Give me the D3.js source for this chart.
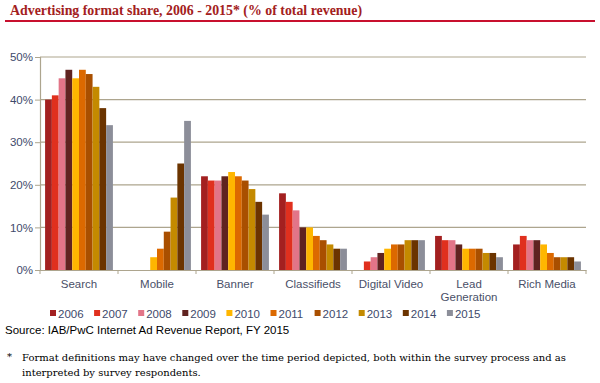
<!DOCTYPE html>
<html><head><meta charset="utf-8">
<script src="https://cdn.jsdelivr.net/npm/d3@7"></script>
<style>body{margin:0;background:#fff}svg{display:block}</style>
</head><body>
<svg id="c" width="600" height="383"></svg>
<script>
const categories = ["Search","Mobile","Banner","Classifieds","Digital Video","Lead Generation","Rich Media"];
const categoryLabels = [["Search"],["Mobile"],["Banner"],["Classifieds"],["Digital Video"],["Lead","Generation"],["Rich Media"]];
const years = ["2006","2007","2008","2009","2010","2011","2012","2013","2014","2015"];
const colors = ["#A32020","#E0301E","#E27588","#602320","#FFB600","#DC6900","#A94F00","#C48A00","#6B3400","#8C8E99"];
const v2006 = [40, 0, 22, 18, 0, 8, 6];
const v2007 = [41, 0, 21, 16, 2, 7, 8];
const v2008 = [45, 0, 21, 14, 3, 7, 7];
const v2009 = [47, 0, 22, 10, 4, 6, 7];
const v2010 = [45, 3, 23, 10, 5, 5, 6];
const v2011 = [47, 5, 22, 8, 6, 5, 4];
const v2012 = [46, 9, 21, 7, 6, 5, 3];
const v2013 = [43, 17, 19, 6, 7, 4, 3];
const v2014 = [38, 25, 16, 5, 7, 4, 3];
const v2015 = [34, 35, 13, 5, 7, 3, 2];
const series = [v2006,v2007,v2008,v2009,v2010,v2011,v2012,v2013,v2014,v2015];
const yTicks = [0,10,20,30,40,50];

const svg = d3.select("#c");
const L = 40, R = 586, T = 57, B = 270;

// Title
svg.append("text").attr("x",10).attr("y",15)
  .attr("font-family","'Liberation Serif', Georgia, serif").attr("font-weight","bold")
  .attr("font-size",14).attr("fill","#A32020")
  .attr("textLength",352).attr("lengthAdjust","spacingAndGlyphs")
  .text("Advertising format share, 2006 - 2015* (% of total revenue)");
svg.append("line").attr("x1",5).attr("x2",595).attr("y1",21).attr("y2",21)
  .attr("stroke","#C8102E").attr("stroke-width",2);

const x = d3.scaleBand().domain(categories).range([L,R]).paddingInner(0).paddingOuter(0);
const x1 = d3.scaleBand().domain(years).range([0,x.bandwidth()]).paddingOuter(0.75).paddingInner(0);
const y = d3.scaleLinear().domain([0,50]).range([B,T]);

// gridlines
svg.append("g").selectAll("line").data(yTicks.filter(d=>d>0)).join("line")
  .attr("x1",L).attr("x2",R).attr("y1",d=>y(d)).attr("y2",d=>y(d))
  .attr("stroke","#ADA58E").attr("stroke-width",1.2);

// y axis
const ya = svg.append("g").attr("transform",`translate(${L},0)`)
  .call(d3.axisLeft(y).tickValues(yTicks).tickFormat(d=>d+"%").tickSize(5).tickPadding(2));
ya.select(".domain").attr("stroke","#ADA58E").attr("stroke-width",1.2);
ya.selectAll(".tick line").attr("stroke","#ADA58E");
ya.selectAll("text").attr("font-family","'Liberation Sans', Arial, sans-serif").attr("font-size",11.5).attr("fill","#3E4A6B");

// bars
const g = svg.append("g");
years.forEach((yr,i)=>{
  g.append("g").selectAll("rect").data(series[i]).join("rect")
    .attr("x",(d,j)=>x(categories[j])+x1(yr))
    .attr("width",x1.bandwidth())
    .attr("y",d=>y(d)).attr("height",d=>B-y(d))
    .attr("fill",colors[i]);
});

// x axis
const xa = svg.append("g").attr("transform",`translate(0,${B})`)
  .call(d3.axisBottom(x).tickSize(0).tickFormat(""));
xa.select(".domain").attr("stroke","#ADA58E").attr("stroke-width",1.2);
const bounds = [L].concat(categories.map(c=>x(c)+x.bandwidth()));
svg.append("g").selectAll("line").data(bounds).join("line")
  .attr("x1",d=>d).attr("x2",d=>d).attr("y1",B).attr("y2",B+4)
  .attr("stroke","#ADA58E");

// category labels
categories.forEach((c,j)=>{
  const t = svg.append("text").attr("x",x(c)+x.bandwidth()/2).attr("y",288)
    .attr("text-anchor","middle").attr("font-family","'Liberation Sans', Arial, sans-serif")
    .attr("font-size",11.5).attr("fill","#4A5068");
  categoryLabels[j].forEach((ln,k)=>{
    t.append("tspan").attr("x",x(c)+x.bandwidth()/2).attr("dy",k===0?0:13).text(ln);
  });
});

// legend
const lg = svg.append("g");
years.forEach((yr,i)=>{
  const lx = 50 + i*44.1;
  lg.append("rect").attr("x",lx).attr("y",310).attr("width",6).attr("height",6).attr("fill",colors[i]);
  lg.append("text").attr("x",lx+8).attr("y",317.5)
    .attr("font-family","'Liberation Sans', Arial, sans-serif").attr("font-size",11.5).attr("fill","#3E4A6B").text(yr);
});

// source
svg.append("text").attr("x",5).attr("y",334)
  .attr("font-family","'Liberation Sans', Arial, sans-serif").attr("font-size",11.5).attr("fill","#000")
  .text("Source: IAB/PwC Internet Ad Revenue Report, FY 2015");

// footnote
const fn = {fam:"'DejaVu Serif', Georgia, serif", size:10};
svg.append("text").attr("x",7).attr("y",360).attr("font-family",fn.fam).attr("font-size",fn.size).attr("fill","#000").text("*");
svg.append("text").attr("x",22).attr("y",361).attr("font-family",fn.fam).attr("font-size",fn.size).attr("fill","#000")
  .text("Format definitions may have changed over the time period depicted, both within the survey process and as");
svg.append("text").attr("x",22).attr("y",376).attr("font-family",fn.fam).attr("font-size",fn.size).attr("fill","#000")
  .text("interpreted by survey respondents.");
</script>
</body></html>
